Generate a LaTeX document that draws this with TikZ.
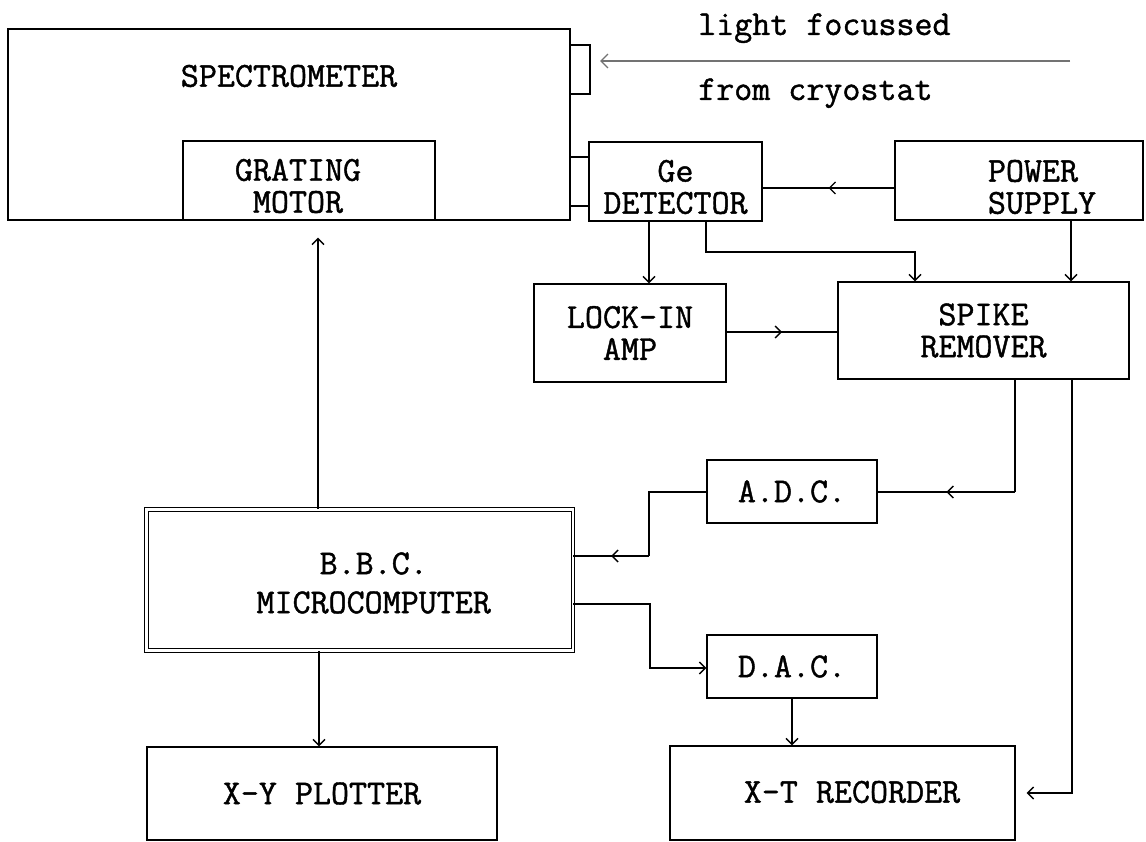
\documentclass[tikz,border=0pt]{standalone}
\usepackage{fontspec}
\newfontfamily\courlike[FakeBold=1.2]{Latin Modern Mono}
\usetikzlibrary{arrows.meta,decorations.markings}
\begin{document}
\begin{tikzpicture}[x=1pt,y=-1pt,
  box/.style={draw, line width=1.4pt, rectangle, inner sep=0pt, align=center, font=\courlike\fontsize{35}{32}\selectfont},
  lbl/.style={font=\courlike\fontsize{35}{32}\selectfont, inner sep=0pt, align=center},
  conn/.style={line width=1.4pt},
  tip/.style={conn, -{Straight Barb[length=6pt,width=12pt]}},
  midarrow/.style={conn, postaction={decorate}, decoration={markings, mark=at position 0.5 with {\arrow{Straight Barb[length=6pt,width=12pt]}}}},
  lightray/.style={line width=1.3pt, black!55, -{Straight Barb[length=7pt,width=14pt]}}
]
\fill[white] (0,0) rectangle (1146,842);
\useasboundingbox (0,0) rectangle (1146,842);

% boxes
\node[box, minimum width=562pt, minimum height=191pt, label={[lbl, yshift=48.5pt]center:SPECTROMETER}] (spec) at (289,124.5) {};
\node[box, minimum width=252pt, minimum height=79pt, label={[lbl, xshift=-11pt, yshift=-5.5pt]center:{GRATING\\MOTOR}}] (grating) at (309,180.5) {};
\node[box, minimum width=173pt, minimum height=79pt, label={[lbl, yshift=-5.5pt]center:{Ge\\DETECTOR}}] (ge) at (675.5,181.5) {};
\node[box, minimum width=248pt, minimum height=79pt, label={[lbl, align=left, xshift=23pt, yshift=-6.5pt]center:{POWER\\SUPPLY}}] (power) at (1019,180.5) {};
\node[box, minimum width=192pt, minimum height=98pt] (lock) at (630,333) {LOCK-IN\\AMP};
\node[box, minimum width=291pt, minimum height=97pt] (spike) at (983.5,330.5) {SPIKE\\REMOVER};
\node[box, minimum width=170pt, minimum height=63pt] (adc) at (792,491.5) {A.D.C.};
\node[box, double, double distance=2.6pt, line width=1pt, minimum width=426.4pt, minimum height=141.4pt, label={[lbl, font=\courlike\fontsize{35}{39}\selectfont, xshift=14pt, yshift=-3pt]center:{B.B.C.\\MICROCOMPUTER}}] (bbc) at (359.7,580) {};
\node[box, minimum width=170pt, minimum height=63pt] (dac) at (792,666.5) {D.A.C.};
\node[box, minimum width=350pt, minimum height=93pt] (xy) at (322,793.5) {X-Y PLOTTER};
\node[box, minimum width=345pt, minimum height=94pt, label={[lbl, xshift=9.5pt, yshift=1pt]center:{X-T RECORDER}}] (xt) at (842.5,793) {};

% texts of the light path
\node[lbl, anchor=base west] (light) at (698,35) {light focussed};
\node[lbl, anchor=base west] (cryo) at (698,100) {from cryostat};

% entrance slit bracket and light ray
\draw[conn] (spec.north east |- 0,45) -- (590,45) -- (590,94) -- (spec.north east |- 0,94);
\coordinate (slit) at (590,61);
\coordinate (src) at (1070,61);
\draw[lightray, shorten >=10pt] (src) -- (slit);

% detector stubs
\draw[conn] (spec.east |- 0,157) -- (ge.west |- 0,157);
\draw[conn] (spec.east |- 0,206) -- (ge.west |- 0,206);

% connectors
\draw[midarrow] (power.west |- 0,188) -- (ge.east |- 0,188);
\draw[tip] (ge.south -| 649,0) -- (lock.north -| 649,0);
\coordinate (b1) at (706,252);
\coordinate (b2) at (915,252);
\draw[tip] (ge.south -| b1) -- (b1) -- (b2) -- (spike.north -| b2);
\draw[tip] (power.south -| 1071,0) -- (spike.north -| 1071,0);
\draw[midarrow] (lock.east |- 0,332) -- (spike.west |- 0,332);
\coordinate (b3) at (1015,492);
\draw[conn] (spike.south -| b3) -- (b3);
\draw[midarrow] (b3) -- (adc.east |- b3);
\coordinate (b4) at (649,492);
\coordinate (b5) at (649,556);
\draw[conn] (adc.west |- b4) -- (b4) -- (b5);
\draw[midarrow] (b5) -- (bbc.east |- b5);
\coordinate (b6) at (650,604);
\coordinate (b7) at (650,668);
\draw[tip] (bbc.east |- b6) -- (b6) -- (b7) -- (dac.west |- b7);
\draw[tip] (dac.south) -- (xt.north -| dac.south);
\coordinate (b8) at (1072,793);
\draw[tip, shorten >=11pt] (spike.south -| b8) -- (b8) -- (xt.east |- b8);
\draw[tip, shorten >=17pt] (bbc.north -| 318,0) -- (grating.south -| 318,0);
\draw[tip] (bbc.south -| 319,0) -- (xy.north -| 319,0);
\end{tikzpicture}
\end{document}
